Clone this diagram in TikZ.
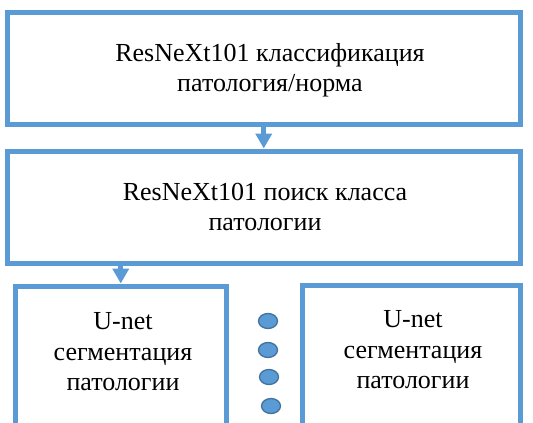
\documentclass[tikz,border=0pt]{standalone}
\usepackage{fontspec}
\setmainfont{Liberation Serif}
\usetikzlibrary{arrows.meta,shapes.geometric}
\definecolor{boxblue}{HTML}{5B9BD5}
\definecolor{dotedge}{HTML}{41719C}
\tikzset{
  blockbox/.style={draw=boxblue, line width=5pt, minimum width=#1, inner sep=0pt},
  txt/.style={align=center, font=\fontsize{26pt}{30.5pt}\selectfont, inner sep=0pt},
  arr/.style={draw=boxblue, line width=5pt, -{Triangle[width=16pt,length=15pt]}},
  dot/.style={ellipse, draw=dotedge, fill=boxblue, line width=1.3pt, minimum width=19pt, minimum height=15pt, inner sep=0pt}
}
\begin{document}
\begin{tikzpicture}[x=1pt,y=-1pt]
\useasboundingbox (0,0) rectangle (533,423);
\clip (0,0) rectangle (533,423);
\node[blockbox=512.5pt, minimum height=112pt] (b1) at (263.75,68) {};
\node[blockbox=512.5pt, minimum height=112pt] (b2) at (263.75,207) {};
\node[txt] (t1) at (270,70) {ResNeXt101 классификация\\патология/норма};
\node[txt] (t2) at (265,207) {ResNeXt101 поиск класса\\патологии};
\node[blockbox=210.5pt, minimum height=159pt] (b3) at (120.75,365.5) {};
\node[blockbox=217.5pt, minimum height=159pt] (b4) at (411.25,365) {};
\node[txt] (t3) at (123,352) {U-net\\сегментация\\патологии};
\node[txt] (t4) at (413,350) {U-net\\сегментация\\патологии};
\draw[arr] (b1.south) -- (b2.north);
\draw[arr] (b2.south -| b3.north) -- (b3.north);
\node[dot] (d1) at (268,321) {};
\node[dot] (d2) at (268,350) {};
\node[dot] (d3) at (269,377) {};
\node[dot] (d4) at (271,406) {};
\end{tikzpicture}
\end{document}
